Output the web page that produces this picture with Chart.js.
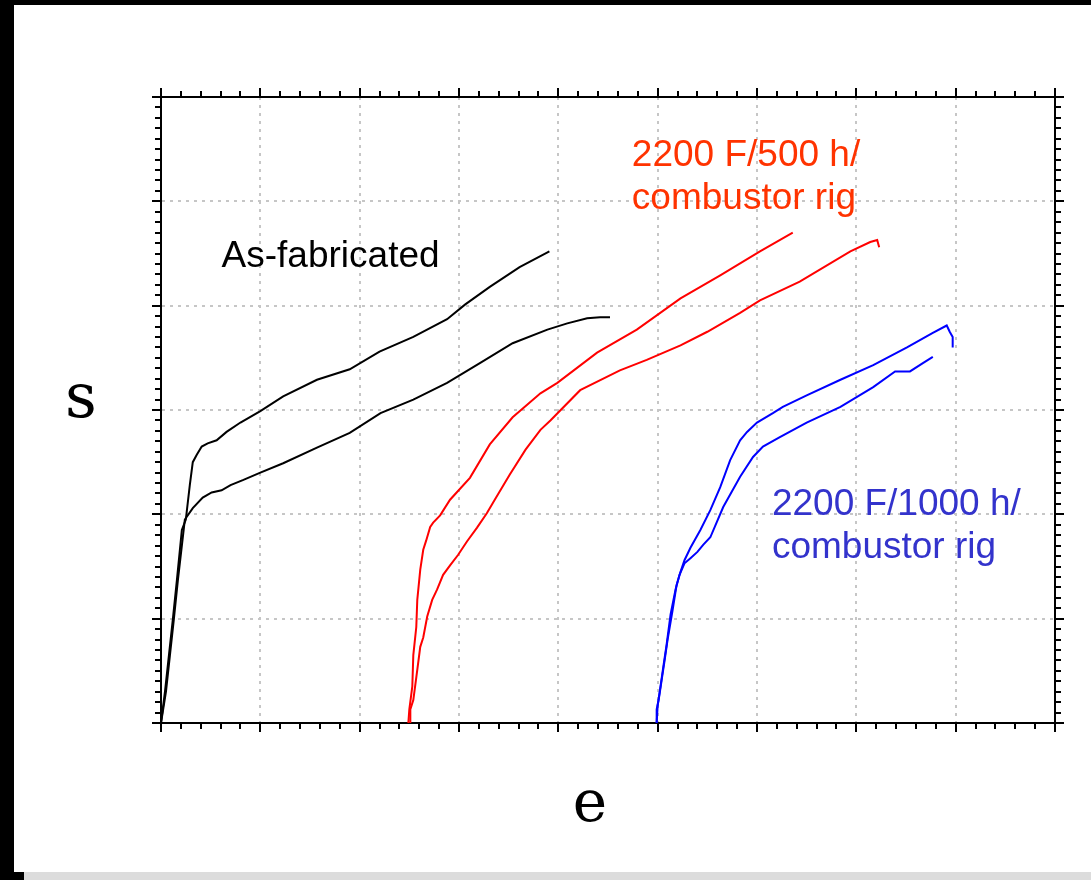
<!DOCTYPE html>
<html>
<head>
<meta charset="utf-8">
<script src="https://cdn.jsdelivr.net/npm/chart.js@4.4.1/dist/chart.umd.min.js"></script>
<style>
  html, body { margin: 0; padding: 0; width: 1091px; height: 880px; overflow: hidden; background: #000; }
  #paper { position: absolute; left: 14px; top: 5px; width: 1077px; height: 867px; background: #fff; }
  #strip { position: absolute; left: 24px; top: 872px; width: 1067px; height: 8px; background: #dcdcdc; }
  #chart { position: absolute; left: 0; top: 0; }
</style>
</head>
<body>
<div id="paper"></div>
<div id="strip"></div>
<canvas id="chart" width="1091" height="880"></canvas>
<script>
// ---- data ----
const asFabA_x = [0, 0.04, 0.08, 0.12, 0.16, 0.21, 0.25, 0.29, 0.32, 0.36, 0.41, 0.47, 0.56, 0.66, 0.80, 1.00, 1.23, 1.57, 1.90, 2.20, 2.54, 2.88, 3.06, 3.31, 3.61, 3.91];
const asFabA_y = [0, 0.30, 0.65, 1.00, 1.37, 1.85, 1.95, 2.28, 2.50, 2.57, 2.65, 2.68, 2.71, 2.79, 2.88, 2.99, 3.13, 3.29, 3.39, 3.56, 3.70, 3.87, 4.01, 4.18, 4.37, 4.52];

const asFabB_x = [0, 0.05, 0.09, 0.13, 0.17, 0.24, 0.32, 0.42, 0.51, 0.61, 0.70, 0.83, 1.00, 1.23, 1.57, 1.90, 2.21, 2.54, 2.88, 3.21, 3.54, 3.89, 4.09, 4.29, 4.42, 4.52];
const asFabB_y = [0, 0.30, 0.65, 1.00, 1.37, 1.95, 2.06, 2.16, 2.21, 2.23, 2.28, 2.33, 2.40, 2.49, 2.64, 2.78, 2.97, 3.10, 3.26, 3.45, 3.64, 3.77, 3.83, 3.88, 3.89, 3.89];

const rig500A_x = [2.49, 2.50, 2.53, 2.54, 2.57, 2.58, 2.61, 2.64, 2.67, 2.71, 2.74, 2.81, 2.91, 3.11, 3.31, 3.54, 3.82, 3.99, 4.39, 4.79, 5.23, 5.63, 6.03, 6.36];
const rig500A_y = [0, 0.13, 0.35, 0.65, 0.92, 1.18, 1.47, 1.66, 1.75, 1.88, 1.92, 1.99, 2.14, 2.35, 2.67, 2.93, 3.16, 3.26, 3.55, 3.77, 4.07, 4.29, 4.52, 4.70];

const rig500B_x = [2.51, 2.51, 2.54, 2.58, 2.61, 2.64, 2.68, 2.73, 2.78, 2.84, 2.91, 2.99, 3.08, 3.18, 3.28, 3.36, 3.51, 3.67, 3.82, 3.92, 4.22, 4.62, 4.89, 5.23, 5.50, 5.83, 6.03, 6.43, 6.94, 7.14, 7.21, 7.23];
const rig500B_y = [0, 0.13, 0.22, 0.51, 0.73, 0.82, 1.02, 1.18, 1.28, 1.42, 1.51, 1.61, 1.74, 1.87, 2.01, 2.14, 2.38, 2.62, 2.81, 2.90, 3.19, 3.38, 3.48, 3.62, 3.75, 3.93, 4.05, 4.23, 4.52, 4.61, 4.63, 4.56];

const rig1000A_x = [4.99, 4.99, 5.01, 5.04, 5.07, 5.10, 5.15, 5.19, 5.23, 5.27, 5.33, 5.43, 5.53, 5.63, 5.73, 5.83, 5.90, 6.00, 6.16, 6.26, 6.50, 6.84, 7.17, 7.51, 7.77, 7.91, 7.94, 7.97, 7.97];
const rig1000A_y = [0, 0.13, 0.22, 0.41, 0.60, 0.80, 1.08, 1.32, 1.45, 1.56, 1.68, 1.85, 2.04, 2.26, 2.52, 2.71, 2.79, 2.88, 2.97, 3.03, 3.14, 3.29, 3.43, 3.60, 3.74, 3.81, 3.75, 3.70, 3.60];

const rig1000B_x = [4.99, 5.00, 5.03, 5.06, 5.09, 5.13, 5.18, 5.22, 5.27, 5.33, 5.40, 5.46, 5.53, 5.66, 5.83, 5.96, 6.06, 6.23, 6.50, 6.84, 7.17, 7.39, 7.54, 7.67, 7.77];
const rig1000B_y = [0, 0.17, 0.36, 0.56, 0.75, 1.04, 1.28, 1.42, 1.53, 1.58, 1.64, 1.71, 1.78, 2.07, 2.36, 2.55, 2.65, 2.74, 2.88, 3.03, 3.22, 3.37, 3.37, 3.45, 3.51];

const xRange = [0, 9];
const yRange = [0, 6];
const xMinorStep = 0.2;
const yMinorStep = 0.1;

const annotationLines = [
  { text: ['As-fabricated'], x: 0.61, y: 4.37, color: '#000000' },
  { text: ['2200 F/500 h/', 'combustor rig'], x: 4.74, y: 5.34, color: '#ff3300' },
  { text: ['2200 F/1000 h/', 'combustor rig'], x: 6.15, y: 1.99, color: '#3333cc' }
];
const xTitle = 'e';
const yTitle = 's';

// ---- build ----
function pts(xs, ys) { return xs.map((x, i) => ({ x: x, y: ys[i] })); }
function isMajor(v) { return Math.abs(v - Math.round(v)) < 1e-6; }

function makeAxis(axisId, position, range, step, withGrid) {
  const outwardFromAxis = (position === 'bottom' || position === 'right');
  return {
    type: 'linear',
    position: position,
    axis: axisId,
    min: range[0],
    max: range[1],
    ticks: { display: false, stepSize: step, autoSkip: false, maxTicksLimit: 1000 },
    grid: {
      display: true,
      drawOnChartArea: withGrid,
      drawTicks: true,
      tickLength: 9,
      lineWidth: 2,
      color: (ctx) => (withGrid && ctx.tick && isMajor(ctx.tick.value)) ? '#c6c6c6' : 'rgba(0,0,0,0)',
      tickColor: '#000000',
      tickWidth: 2,
      tickBorderDash: (ctx) => (ctx.tick && isMajor(ctx.tick.value)) ? [] : (outwardFromAxis ? [5, 100] : [0, 3, 5, 100]),
      tickBorderDashOffset: 0
    },
    border: { display: true, color: '#000000', width: 2, dash: [3, 5] }
  };
}

const textPlugin = {
  id: 'textPlugin',
  afterDatasetsDraw(chart) {
    const { ctx, chartArea, scales } = chart;
    ctx.save();
    ctx.font = '37px "Liberation Sans", Arial, sans-serif';
    ctx.textAlign = 'left';
    ctx.textBaseline = 'alphabetic';
    annotationLines.forEach(a => {
      const px = scales.x.getPixelForValue(a.x);
      const py = scales.y.getPixelForValue(a.y);
      ctx.fillStyle = a.color;
      a.text.forEach((t, i) => ctx.fillText(t, px, py + i * 43));
    });
    ctx.fillStyle = '#000000';
    ctx.font = '62px "DejaVu Serif", serif';
    ctx.textAlign = 'center';
    ctx.fillText(yTitle, chartArea.left - 80, chartArea.top + 320);
    ctx.font = '58px "DejaVu Serif", serif';
    ctx.fillText(xTitle, chartArea.left + 429, chartArea.bottom + 98);
    ctx.restore();
  }
};

function ds(label, data, color) {
  return { label: label, data: data, borderColor: color, backgroundColor: color, borderWidth: 2,
           pointRadius: 0, pointHoverRadius: 0, tension: 0, fill: false, xAxisID: 'x', yAxisID: 'y' };
}

new Chart(document.getElementById('chart'), {
  type: 'line',
  data: {
    datasets: [
      ds('As-fabricated 1', pts(asFabA_x, asFabA_y), '#000000'),
      ds('As-fabricated 2', pts(asFabB_x, asFabB_y), '#000000'),
      ds('2200 F/500 h 1', pts(rig500A_x, rig500A_y), '#ff0000'),
      ds('2200 F/500 h 2', pts(rig500B_x, rig500B_y), '#ff0000'),
      ds('2200 F/1000 h 1', pts(rig1000A_x, rig1000A_y), '#0000ff'),
      ds('2200 F/1000 h 2', pts(rig1000B_x, rig1000B_y), '#0000ff')
    ]
  },
  options: {
    responsive: false,
    animation: false,
    devicePixelRatio: 1,
    layout: { padding: { left: 152, right: 27, top: 88, bottom: 148 } },
    plugins: { legend: { display: false }, tooltip: { enabled: false }, title: { display: false } },
    events: [],
    scales: {
      x: makeAxis('x', 'bottom', xRange, xMinorStep, true),
      xTop: makeAxis('x', 'top', xRange, xMinorStep, false),
      y: makeAxis('y', 'left', yRange, yMinorStep, true),
      yRight: makeAxis('y', 'right', yRange, yMinorStep, false)
    }
  },
  plugins: [textPlugin]
});
</script>
</body>
</html>
